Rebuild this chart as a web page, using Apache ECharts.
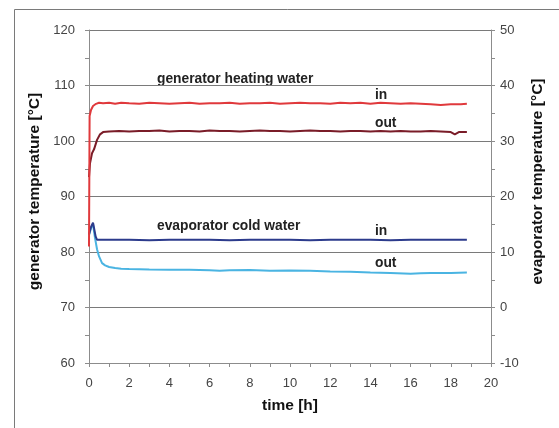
<!DOCTYPE html>
<html>
<head>
<meta charset="utf-8">
<script src="https://cdn.jsdelivr.net/npm/echarts@6/dist/echarts.min.js"></script>
<style>
html, body { margin: 0; padding: 0; background: #fff; }
#chart { width: 559px; height: 428px; }
</style>
</head>
<body>
<div id="chart"></div>
<script>
// time [h] and temperatures
var genInTime = [0, 0.03, 0.1, 0.2, 0.35, 0.5, 0.7, 1, 1.3, 1.6, 2, 2.5, 3, 3.5, 4, 4.5, 5, 5.5, 6, 6.5, 7, 7.5, 8, 8.5, 9, 9.5, 10, 10.5, 11, 11.5, 12, 12.5, 13, 13.5, 14, 14.5, 15, 15.5, 16, 16.5, 17, 17.5, 18, 18.5, 18.8]
var genIn = [81, 104.5, 105.6, 106.3, 106.7, 106.9, 106.8, 106.9, 106.7, 106.9, 106.8, 106.7, 106.9, 106.8, 106.7, 106.8, 106.9, 106.7, 106.8, 106.8, 106.9, 106.7, 106.8, 106.8, 106.9, 106.7, 106.8, 106.9, 106.8, 106.8, 106.7, 106.9, 106.8, 106.9, 106.7, 106.9, 106.8, 106.7, 106.8, 106.7, 106.6, 106.5, 106.6, 106.6, 106.7]

var genOutTime = [0, 0.05, 0.15, 0.25, 0.4, 0.55, 0.7, 1, 1.5, 2, 2.5, 3, 3.5, 4, 4.5, 5, 5.5, 6, 6.5, 7, 7.5, 8, 8.5, 9, 9.5, 10, 10.5, 11, 11.5, 12, 12.5, 13, 13.5, 14, 14.5, 15, 15.5, 16, 16.5, 17, 17.5, 18, 18.2, 18.4, 18.8]
var genOut = [93.5, 96, 97.8, 98.5, 100.2, 101.2, 101.6, 101.7, 101.8, 101.7, 101.8, 101.8, 101.9, 101.7, 101.8, 101.8, 101.7, 101.9, 101.8, 101.8, 101.7, 101.8, 101.9, 101.8, 101.8, 101.7, 101.8, 101.9, 101.8, 101.8, 101.7, 101.8, 101.8, 101.7, 101.8, 101.7, 101.8, 101.7, 101.7, 101.8, 101.7, 101.6, 101.2, 101.6, 101.6]

var evapInTime = [0, 0.1, 0.2, 0.28, 0.33, 0.4, 0.6, 1, 2, 3, 4, 5, 6, 7, 8, 9, 10, 11, 12, 13, 14, 15, 16, 17, 18, 18.8]
var evapIn = [13.2, 14.5, 15.3, 15.0, 12.8, 12.2, 12.2, 12.2, 12.2, 12.1, 12.2, 12.2, 12.2, 12.1, 12.2, 12.2, 12.2, 12.1, 12.2, 12.2, 12.2, 12.1, 12.2, 12.2, 12.2, 12.2]

var evapOutTime = [0, 0.1, 0.2, 0.3, 0.4, 0.5, 0.65, 0.8, 1, 1.3, 1.6, 2, 2.5, 3, 4, 5, 6, 6.5, 7, 8, 9, 10, 11, 12, 13, 14, 15, 16, 16.5, 17, 18, 18.8]
var evapOut = [13, 14.3, 15.0, 12.5, 10.5, 9.2, 8.0, 7.6, 7.3, 7.1, 7.0, 6.95, 6.9, 6.85, 6.8, 6.8, 6.7, 6.6, 6.7, 6.75, 6.6, 6.65, 6.6, 6.5, 6.45, 6.3, 6.2, 6.1, 6.15, 6.2, 6.2, 6.3]

var xTicks = { min: 0, max: 20, interval: 2 }
var leftTicks = { min: 60, max: 120, interval: 10 }
var rightTicks = { min: -10, max: 50, interval: 10 }

function pairs(t, v) {
	var out = []
	for (var i = 0; i < t.length; i++) {
		out.push([t[i], v[i]])
	}
	return out
}

var font = '"Liberation Sans", Arial, sans-serif'
var axisGray = '#8c8c8c'
var labelStyle = { color: '#444', fontSize: 13, fontFamily: font }
var nameStyle = { color: '#111', fontSize: 15.5, fontWeight: 'bold', fontFamily: font }
var noteFont = 'bold 13.8px ' + font

var myChart = echarts.init(document.getElementById('chart'))
var option = {
	animation: false,
	grid: { left: 89, right: 68, top: 30, bottom: 65 },
	xAxis: {
		type: 'value',
		min: xTicks.min,
		max: xTicks.max,
		interval: xTicks.interval,
		name: 'time [h]',
		nameLocation: 'middle',
		nameGap: 35,
		nameTextStyle: nameStyle,
		axisLine: { onZero: false, lineStyle: { color: axisGray, width: 1 } },
		axisTick: { show: true, length: 4, lineStyle: { color: axisGray } },
		minorTick: { show: true, splitNumber: 2, length: 4, lineStyle: { color: axisGray } },
		axisLabel: Object.assign({ margin: 14 }, labelStyle),
		splitLine: { show: false }
	},
	yAxis: [
		{
			type: 'value',
			position: 'left',
			min: leftTicks.min,
			max: leftTicks.max,
			interval: leftTicks.interval,
			name: 'generator temperature [°C]',
			nameLocation: 'middle',
			nameGap: 42,
			nameTextStyle: Object.assign({ padding: [0, 0, 0, 10] }, nameStyle),
			axisLine: { show: true, lineStyle: { color: axisGray, width: 1 } },
			axisTick: { show: true, length: 4, lineStyle: { color: axisGray } },
			minorTick: { show: true, splitNumber: 2, length: 4, lineStyle: { color: axisGray } },
			axisLabel: Object.assign({ margin: 14 }, labelStyle),
			splitLine: { show: true, lineStyle: { color: '#7a7a7a', width: 1 } }
		},
		{
			type: 'value',
			position: 'right',
			min: rightTicks.min,
			max: rightTicks.max,
			interval: rightTicks.interval,
			name: 'evaporator temperature [°C]',
			nameLocation: 'middle',
			nameGap: 38,
			nameTextStyle: Object.assign({ padding: [0, 0, 0, 30] }, nameStyle),
			axisLine: { show: true, lineStyle: { color: axisGray, width: 1 } },
			axisTick: { show: true, length: 4, lineStyle: { color: axisGray } },
			minorTick: { show: true, splitNumber: 2, length: 4, lineStyle: { color: axisGray } },
			axisLabel: Object.assign({ margin: 9 }, labelStyle),
			splitLine: { show: false }
		}
	],
	graphic: [
		{
			type: 'rect',
			shape: { x: 14.5, y: 9.5, width: 600, height: 500 },
			style: { fill: 'none', stroke: '#7a7a7a', lineWidth: 1 },
			silent: true
		},
		{ type: 'text', left: 157, top: 72, style: { text: 'generator heating water', font: noteFont, fill: '#222' } },
		{ type: 'text', left: 375, top: 88, style: { text: 'in', font: noteFont, fill: '#222' } },
		{ type: 'text', left: 375, top: 116, style: { text: 'out', font: noteFont, fill: '#222' } },
		{ type: 'text', left: 157, top: 219, style: { text: 'evaporator cold water', font: noteFont, fill: '#222' } },
		{ type: 'text', left: 375, top: 224, style: { text: 'in', font: noteFont, fill: '#222' } },
		{ type: 'text', left: 375, top: 256, style: { text: 'out', font: noteFont, fill: '#222' } }
	],
	series: [
		{
			name: 'evaporator out',
			type: 'line',
			yAxisIndex: 1,
			data: pairs(evapOutTime, evapOut),
			showSymbol: false,
			lineStyle: { color: '#4ab4e2', width: 2 },
			itemStyle: { color: '#4ab4e2' }
		},
		{
			name: 'evaporator in',
			type: 'line',
			yAxisIndex: 1,
			data: pairs(evapInTime, evapIn),
			showSymbol: false,
			lineStyle: { color: '#2c3b8c', width: 2 },
			itemStyle: { color: '#2c3b8c' }
		},
		{
			name: 'generator out',
			type: 'line',
			yAxisIndex: 0,
			data: pairs(genOutTime, genOut),
			showSymbol: false,
			lineStyle: { color: '#7a1c28', width: 2 },
			itemStyle: { color: '#7a1c28' }
		},
		{
			name: 'generator in',
			type: 'line',
			yAxisIndex: 0,
			data: pairs(genInTime, genIn),
			showSymbol: false,
			lineStyle: { color: '#e0393c', width: 2 },
			itemStyle: { color: '#e0393c' }
		}
	]
}
myChart.setOption(option)
</script>
</body>
</html>
